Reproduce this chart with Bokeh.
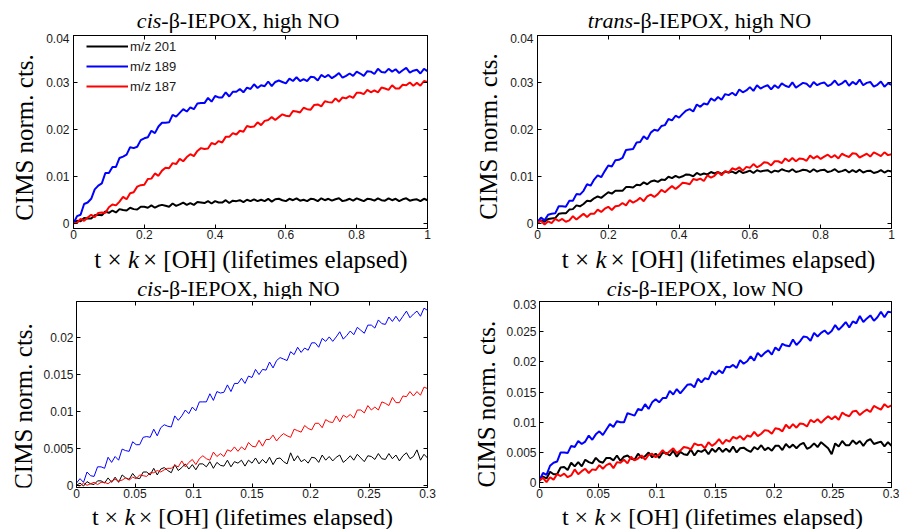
import numpy as np
from bokeh.plotting import figure
from bokeh.models import Range1d, FixedTicker, LinearAxis, Label, Legend, LegendItem
from bokeh.layouts import column, row
from bokeh.embed import file_html
from bokeh.resources import INLINE

# ---------------- data (CIMS normalized counts) ----------------
# x samples: lifetimes elapsed
x_full = np.linspace(0, 1, 101)      # top panels
x_early = np.linspace(0, 0.3, 101)   # bottom panels

# cis-beta-IEPOX, high NO (0-1 lifetimes)
cis_hi_201 = [0, 5e-4, 4e-4, 11e-4, 10e-4, 10e-4, 17e-4, 18e-4, 17e-4, 25e-4,
              22e-4, 27e-4, 23e-4, 30e-4, 28e-4, 27e-4, 33e-4, 30e-4, 29e-4, 35e-4,
              35e-4, 33e-4, 38e-4, 33e-4, 37e-4, 39e-4, 37e-4, 35e-4, 42e-4, 37e-4,
              40e-4, 44e-4, 39e-4, 43e-4, 39e-4, 45e-4, 44e-4, 43e-4, 47e-4, 42e-4,
              47e-4, 44e-4, 44e-4, 49e-4, 43e-4, 48e-4, 47e-4, 49e-4, 45e-4, 50e-4,
              47e-4, 51e-4, 47e-4, 50e-4, 47e-4, 52e-4, 46e-4, 51e-4, 52e-4, 49e-4,
              47e-4, 52e-4, 49e-4, 53e-4, 48e-4, 50e-4, 47e-4, 52e-4, 51e-4, 47e-4,
              53e-4, 49e-4, 52e-4, 48e-4, 51e-4, 53e-4, 47e-4, 49e-4, 52e-4, 48e-4,
              53e-4, 50e-4, 47e-4, 52e-4, 51e-4, 48e-4, 53e-4, 49e-4, 48e-4, 53e-4,
              49e-4, 52e-4, 47e-4, 51e-4, 53e-4, 48e-4, 50e-4, 51e-4, 47e-4, 52e-4,
              49e-4]
cis_hi_189 = [0, 15e-4, 18e-4, 41e-4, 44e-4, 52e-4, 72e-4, 80e-4, 85e-4, 107e-4,
              107e-4, 120e-4, 120e-4, 139e-4, 142e-4, 146e-4, 162e-4, 160e-4, 163e-4, 177e-4,
              181e-4, 183e-4, 197e-4, 192e-4, 206e-4, 214e-4, 214e-4, 215e-4, 231e-4, 227e-4,
              235e-4, 243e-4, 238e-4, 247e-4, 243e-4, 255e-4, 256e-4, 256e-4, 267e-4, 259e-4,
              271e-4, 268e-4, 268e-4, 279e-4, 270e-4, 280e-4, 280e-4, 286e-4, 279e-4, 289e-4,
              286e-4, 296e-4, 288e-4, 294e-4, 292e-4, 302e-4, 292e-4, 301e-4, 304e-4, 301e-4,
              298e-4, 308e-4, 303e-4, 311e-4, 303e-4, 307e-4, 303e-4, 312e-4, 311e-4, 304e-4,
              316e-4, 311e-4, 316e-4, 309e-4, 314e-4, 320e-4, 310e-4, 314e-4, 319e-4, 314e-4,
              323e-4, 319e-4, 314e-4, 324e-4, 323e-4, 318e-4, 329e-4, 322e-4, 321e-4, 329e-4,
              323e-4, 328e-4, 320e-4, 326e-4, 331e-4, 321e-4, 325e-4, 327e-4, 319e-4, 329e-4,
              324e-4]
cis_hi_187 = [0, 1e-4, 9e-4, 5e-4, 12e-4, 18e-4, 13e-4, 22e-4, 23e-4, 22e-4,
              34e-4, 40e-4, 38e-4, 46e-4, 56e-4, 51e-4, 64e-4, 66e-4, 78e-4, 81e-4,
              82e-4, 94e-4, 95e-4, 106e-4, 101e-4, 112e-4, 118e-4, 117e-4, 128e-4, 126e-4,
              137e-4, 132e-4, 141e-4, 147e-4, 143e-4, 154e-4, 160e-4, 158e-4, 159e-4, 171e-4,
              168e-4, 175e-4, 172e-4, 184e-4, 184e-4, 192e-4, 189e-4, 197e-4, 195e-4, 207e-4,
              205e-4, 206e-4, 215e-4, 209e-4, 218e-4, 220e-4, 226e-4, 220e-4, 226e-4, 232e-4,
              229e-4, 228e-4, 239e-4, 238e-4, 236e-4, 246e-4, 243e-4, 242e-4, 252e-4, 253e-4,
              249e-4, 260e-4, 258e-4, 257e-4, 266e-4, 259e-4, 268e-4, 266e-4, 271e-4, 267e-4,
              278e-4, 278e-4, 275e-4, 284e-4, 279e-4, 283e-4, 279e-4, 289e-4, 287e-4, 284e-4,
              294e-4, 287e-4, 287e-4, 295e-4, 294e-4, 300e-4, 293e-4, 299e-4, 293e-4, 303e-4,
              301e-4]

# trans-beta-IEPOX, high NO (0-1 lifetimes)
trans_hi_201 = [1e-4, 6e-4, 3e-4, 9e-4, 10e-4, 11e-4, 20e-4, 21e-4, 21e-4, 29e-4,
                30e-4, 38e-4, 36e-4, 41e-4, 48e-4, 47e-4, 53e-4, 57e-4, 54e-4, 60e-4,
                66e-4, 63e-4, 69e-4, 69e-4, 69e-4, 77e-4, 77e-4, 76e-4, 82e-4, 81e-4,
                87e-4, 83e-4, 89e-4, 91e-4, 88e-4, 93e-4, 92e-4, 99e-4, 96e-4, 101e-4,
                97e-4, 100e-4, 104e-4, 103e-4, 100e-4, 107e-4, 103e-4, 106e-4, 104e-4, 109e-4,
                106e-4, 109e-4, 105e-4, 110e-4, 108e-4, 110e-4, 106e-4, 112e-4, 107e-4, 109e-4,
                112e-4, 107e-4, 113e-4, 110e-4, 112e-4, 113e-4, 108e-4, 112e-4, 110e-4, 115e-4,
                112e-4, 110e-4, 115e-4, 109e-4, 111e-4, 114e-4, 113e-4, 109e-4, 115e-4, 110e-4,
                113e-4, 114e-4, 109e-4, 111e-4, 115e-4, 109e-4, 111e-4, 114e-4, 108e-4, 113e-4,
                109e-4, 114e-4, 108e-4, 111e-4, 112e-4, 107e-4, 109e-4, 113e-4, 108e-4, 112e-4,
                110e-4]
trans_hi_189 = [3e-4, 12e-4, 6e-4, 18e-4, 20e-4, 21e-4, 36e-4, 36e-4, 35e-4, 48e-4,
                48e-4, 62e-4, 61e-4, 69e-4, 83e-4, 80e-4, 93e-4, 102e-4, 98e-4, 111e-4,
                123e-4, 121e-4, 134e-4, 135e-4, 139e-4, 156e-4, 157e-4, 158e-4, 172e-4, 173e-4,
                185e-4, 179e-4, 193e-4, 199e-4, 197e-4, 207e-4, 209e-4, 222e-4, 219e-4, 229e-4,
                225e-4, 233e-4, 240e-4, 243e-4, 238e-4, 253e-4, 248e-4, 255e-4, 253e-4, 266e-4,
                261e-4, 269e-4, 263e-4, 275e-4, 273e-4, 278e-4, 272e-4, 285e-4, 279e-4, 283e-4,
                290e-4, 282e-4, 294e-4, 287e-4, 291e-4, 294e-4, 285e-4, 294e-4, 288e-4, 298e-4,
                293e-4, 290e-4, 300e-4, 289e-4, 294e-4, 299e-4, 297e-4, 290e-4, 301e-4, 294e-4,
                298e-4, 300e-4, 292e-4, 296e-4, 304e-4, 294e-4, 298e-4, 304e-4, 293e-4, 301e-4,
                296e-4, 306e-4, 294e-4, 299e-4, 301e-4, 291e-4, 295e-4, 302e-4, 291e-4, 298e-4,
                295e-4]
trans_hi_187 = [1e-4, 5e-4, -3e-4, 4e-4, 0, 9e-4, 5e-4, 9e-4, 3e-4, 6e-4,
                15e-4, 8e-4, 14e-4, 20e-4, 13e-4, 20e-4, 20e-4, 29e-4, 24e-4, 31e-4,
                35e-4, 28e-4, 36e-4, 37e-4, 43e-4, 38e-4, 49e-4, 44e-4, 48e-4, 54e-4,
                47e-4, 57e-4, 61e-4, 56e-4, 62e-4, 71e-4, 66e-4, 73e-4, 79e-4, 73e-4,
                79e-4, 86e-4, 85e-4, 83e-4, 94e-4, 92e-4, 95e-4, 90e-4, 102e-4, 97e-4,
                101e-4, 109e-4, 102e-4, 111e-4, 108e-4, 117e-4, 114e-4, 119e-4, 112e-4, 120e-4,
                118e-4, 126e-4, 119e-4, 123e-4, 130e-4, 129e-4, 123e-4, 132e-4, 132e-4, 128e-4,
                138e-4, 132e-4, 139e-4, 132e-4, 138e-4, 137e-4, 133e-4, 144e-4, 138e-4, 143e-4,
                137e-4, 142e-4, 146e-4, 140e-4, 145e-4, 138e-4, 148e-4, 144e-4, 141e-4, 149e-4,
                148e-4, 140e-4, 144e-4, 148e-4, 142e-4, 151e-4, 147e-4, 143e-4, 151e-4, 145e-4,
                147e-4]

# cis-beta-IEPOX, high NO (0-0.3 lifetimes)
cis_hi_early_201 = [0, 3e-4, -1e-4, 5e-4, 2e-4, 1e-4, 6e-4, 6e-4, 3e-4, 10e-4,
                    4e-4, 11e-4, 4e-4, 14e-4, 10e-4, 8e-4, 16e-4, 10e-4, 9e-4, 18e-4,
                    18e-4, 14e-4, 23e-4, 14e-4, 22e-4, 24e-4, 20e-4, 17e-4, 28e-4, 20e-4,
                    24e-4, 29e-4, 22e-4, 28e-4, 21e-4, 29e-4, 29e-4, 25e-4, 32e-4, 23e-4,
                    31e-4, 27e-4, 26e-4, 34e-4, 25e-4, 32e-4, 30e-4, 34e-4, 26e-4, 34e-4,
                    30e-4, 37e-4, 29e-4, 35e-4, 30e-4, 38e-4, 28e-4, 36e-4, 37e-4, 32e-4,
                    29e-4, 44e-4, 33e-4, 40e-4, 32e-4, 35e-4, 30e-4, 38e-4, 37e-4, 31e-4,
                    41e-4, 34e-4, 39e-4, 33e-4, 38e-4, 41e-4, 31e-4, 35e-4, 40e-4, 34e-4,
                    42e-4, 37e-4, 32e-4, 40e-4, 39e-4, 35e-4, 43e-4, 36e-4, 35e-4, 43e-4,
                    36e-4, 41e-4, 33e-4, 40e-4, 44e-4, 36e-4, 39e-4, 48e-4, 34e-4, 42e-4,
                    37e-4]
cis_hi_early_189 = [3e-4, 9e-4, 4e-4, 18e-4, 13e-4, 12e-4, 25e-4, 25e-4, 23e-4, 38e-4,
                    31e-4, 39e-4, 34e-4, 49e-4, 47e-4, 46e-4, 59e-4, 55e-4, 55e-4, 65e-4,
                    66e-4, 65e-4, 76e-4, 67e-4, 78e-4, 82e-4, 80e-4, 79e-4, 94e-4, 88e-4,
                    94e-4, 102e-4, 97e-4, 106e-4, 101e-4, 113e-4, 113e-4, 113e-4, 124e-4, 115e-4,
                    127e-4, 125e-4, 126e-4, 136e-4, 127e-4, 138e-4, 138e-4, 145e-4, 138e-4, 148e-4,
                    146e-4, 157e-4, 150e-4, 157e-4, 156e-4, 167e-4, 159e-4, 169e-4, 173e-4, 171e-4,
                    169e-4, 181e-4, 177e-4, 187e-4, 180e-4, 186e-4, 183e-4, 193e-4, 193e-4, 187e-4,
                    199e-4, 195e-4, 201e-4, 195e-4, 201e-4, 208e-4, 198e-4, 203e-4, 209e-4, 204e-4,
                    214e-4, 210e-4, 206e-4, 217e-4, 217e-4, 213e-4, 224e-4, 219e-4, 218e-4, 228e-4,
                    222e-4, 229e-4, 222e-4, 229e-4, 236e-4, 227e-4, 232e-4, 236e-4, 229e-4, 240e-4,
                    237e-4]
cis_hi_early_187 = [0, -1e-4, 3e-4, 0, 2e-4, 4e-4, 1e-4, 4e-4, 4e-4, 2e-4,
                    6e-4, 8e-4, 6e-4, 7e-4, 10e-4, 7e-4, 11e-4, 9e-4, 14e-4, 13e-4,
                    12e-4, 17e-4, 17e-4, 20e-4, 18e-4, 21e-4, 23e-4, 23e-4, 27e-4, 25e-4,
                    33e-4, 25e-4, 31e-4, 35e-4, 28e-4, 36e-4, 40e-4, 36e-4, 34e-4, 45e-4,
                    39e-4, 43e-4, 39e-4, 48e-4, 46e-4, 52e-4, 46e-4, 52e-4, 48e-4, 58e-4,
                    53e-4, 52e-4, 61e-4, 53e-4, 62e-4, 62e-4, 68e-4, 60e-4, 66e-4, 70e-4,
                    67e-4, 65e-4, 76e-4, 74e-4, 72e-4, 81e-4, 77e-4, 75e-4, 84e-4, 84e-4,
                    78e-4, 89e-4, 86e-4, 85e-4, 94e-4, 86e-4, 95e-4, 92e-4, 96e-4, 91e-4,
                    102e-4, 102e-4, 98e-4, 108e-4, 102e-4, 106e-4, 102e-4, 113e-4, 111e-4, 108e-4,
                    119e-4, 112e-4, 112e-4, 121e-4, 120e-4, 127e-4, 121e-4, 127e-4, 122e-4, 133e-4,
                    131e-4]

# cis-beta-IEPOX, low NO (0-0.3 lifetimes)
cis_lo_201 = [3e-4, 10e-4, 7e-4, 18e-4, 14e-4, 14e-4, 25e-4, 26e-4, 21e-4, 33e-4,
              27e-4, 34e-4, 27e-4, 38e-4, 34e-4, 32e-4, 41e-4, 35e-4, 33e-4, 41e-4,
              41e-4, 37e-4, 45e-4, 36e-4, 43e-4, 45e-4, 40e-4, 38e-4, 48e-4, 41e-4,
              44e-4, 50e-4, 42e-4, 48e-4, 41e-4, 50e-4, 49e-4, 45e-4, 53e-4, 43e-4,
              51e-4, 47e-4, 46e-4, 55e-4, 45e-4, 53e-4, 51e-4, 55e-4, 47e-4, 56e-4,
              51e-4, 58e-4, 51e-4, 56e-4, 51e-4, 60e-4, 50e-4, 57e-4, 58e-4, 54e-4,
              51e-4, 59e-4, 55e-4, 62e-4, 54e-4, 58e-4, 53e-4, 61e-4, 61e-4, 54e-4,
              64e-4, 58e-4, 63e-4, 57e-4, 63e-4, 66e-4, 56e-4, 59e-4, 65e-4, 59e-4,
              67e-4, 62e-4, 57e-4, 47e-4, 65e-4, 60e-4, 69e-4, 62e-4, 62e-4, 70e-4,
              64e-4, 69e-4, 61e-4, 69e-4, 72e-4, 64e-4, 66e-4, 68e-4, 60e-4, 67e-4,
              61e-4]
cis_lo_189 = [4e-4, 16e-4, 13e-4, 28e-4, 33e-4, 35e-4, 50e-4, 50e-4, 49e-4, 61e-4,
              59e-4, 69e-4, 64e-4, 68e-4, 78e-4, 71e-4, 80e-4, 85e-4, 79e-4, 88e-4,
              97e-4, 92e-4, 102e-4, 100e-4, 100e-4, 115e-4, 113e-4, 111e-4, 122e-4, 120e-4,
              130e-4, 122e-4, 133e-4, 138e-4, 133e-4, 140e-4, 140e-4, 152e-4, 146e-4, 155e-4,
              148e-4, 155e-4, 162e-4, 163e-4, 158e-4, 172e-4, 166e-4, 173e-4, 171e-4, 184e-4,
              179e-4, 186e-4, 181e-4, 192e-4, 191e-4, 195e-4, 190e-4, 203e-4, 197e-4, 201e-4,
              209e-4, 202e-4, 215e-4, 209e-4, 215e-4, 219e-4, 212e-4, 224e-4, 219e-4, 230e-4,
              227e-4, 226e-4, 237e-4, 228e-4, 234e-4, 242e-4, 241e-4, 235e-4, 248e-4, 242e-4,
              248e-4, 252e-4, 246e-4, 251e-4, 261e-4, 253e-4, 259e-4, 266e-4, 257e-4, 267e-4,
              264e-4, 276e-4, 266e-4, 272e-4, 277e-4, 268e-4, 274e-4, 283e-4, 274e-4, 283e-4,
              282e-4]
cis_lo_187 = [4e-4, 8e-4, 1e-4, 9e-4, 5e-4, 14e-4, 11e-4, 15e-4, 9e-4, 12e-4,
              22e-4, 14e-4, 19e-4, 23e-4, 16e-4, 22e-4, 21e-4, 29e-4, 23e-4, 29e-4,
              32e-4, 24e-4, 34e-4, 33e-4, 38e-4, 32e-4, 43e-4, 37e-4, 40e-4, 45e-4,
              38e-4, 46e-4, 48e-4, 42e-4, 47e-4, 54e-4, 47e-4, 52e-4, 57e-4, 49e-4,
              53e-4, 59e-4, 58e-4, 55e-4, 65e-4, 62e-4, 63e-4, 57e-4, 67e-4, 61e-4,
              65e-4, 72e-4, 64e-4, 71e-4, 68e-4, 76e-4, 73e-4, 77e-4, 71e-4, 78e-4,
              76e-4, 84e-4, 77e-4, 81e-4, 87e-4, 86e-4, 81e-4, 90e-4, 89e-4, 85e-4,
              96e-4, 90e-4, 97e-4, 91e-4, 98e-4, 97e-4, 93e-4, 104e-4, 100e-4, 105e-4,
              99e-4, 105e-4, 110e-4, 105e-4, 110e-4, 104e-4, 116e-4, 112e-4, 110e-4, 118e-4,
              119e-4, 112e-4, 117e-4, 121e-4, 117e-4, 127e-4, 124e-4, 121e-4, 130e-4, 125e-4,
              128e-4]

# ---------------- ticks ----------------
x_ticks_full = [0, 0.2, 0.4, 0.6, 0.8, 1]
x_labels_full = ["0", "0.2", "0.4", "0.6", "0.8", "1"]
x_ticks_early = [0, 0.05, 0.1, 0.15, 0.2, 0.25, 0.3]
x_labels_early = ["0", "0.05", "0.1", "0.15", "0.2", "0.25", "0.3"]
y_ticks_top = [0, 0.01, 0.02, 0.03, 0.04]
y_labels_top = ["0", "0.01", "0.02", "0.03", "0.04"]
y_ticks_c = [0, 0.005, 0.01, 0.015, 0.02]
y_labels_c = ["0", "0.005", "0.01", "0.015", "0.02"]
y_ticks_d = [0, 0.005, 0.01, 0.015, 0.02, 0.025, 0.03]
y_labels_d = ["0", "0.005", "0.01", "0.015", "0.02", "0.025", "0.03"]

series_names = ["m/z 201", "m/z 189", "m/z 187"]
series_colors = ["#000000", "#0000ff", "#ff0000"]

SERIF = "Liberation Serif"
SANS = "Liberation Sans"
XLABEL_A = "t \u00d7"
XLABEL_K = "k"
XLABEL_B = "\u00d7 [OH] (lifetimes elapsed)"
YLABEL = "CIMS norm. cts."


def style_axis(ax, ticks, labels, standoff, show_labels=True):
    ax.ticker = FixedTicker(ticks=ticks)
    ax.major_tick_in = 4
    ax.major_tick_out = 0
    ax.minor_tick_line_color = None
    ax.major_tick_line_color = "black"
    ax.axis_line_color = "black"
    if show_labels:
        ax.major_label_overrides = dict(zip(ticks, labels))
        ax.major_label_text_font = SANS
        ax.major_label_text_font_size = "12px"
        ax.major_label_text_color = "#1a1a1a"
        ax.major_label_standoff = standoff
    else:
        ax.major_label_text_font_size = "1px"
        ax.major_label_text_color = None
        ax.major_label_standoff = 0


def make_panel(width, height, borders, xr, yr, xt, xtl, yt, ytl, ystandoff):
    bl, br, bt, bb = borders
    p = figure(width=width, height=height, x_range=Range1d(*xr), y_range=Range1d(*yr),
               output_backend="svg", toolbar_location=None,
               min_border_left=bl, min_border_right=br,
               min_border_top=bt, min_border_bottom=bb,
               background_fill_color="white", border_fill_color="white")
    p.grid.visible = False
    p.outline_line_color = "black"
    p.outline_line_width = 1
    style_axis(p.xaxis[0], xt, xtl, 1)
    style_axis(p.yaxis[0], yt, ytl, ystandoff)
    top = LinearAxis()
    style_axis(top, xt, xtl, 0, show_labels=False)
    p.add_layout(top, "above")
    right = LinearAxis()
    style_axis(right, yt, ytl, 0, show_labels=False)
    p.add_layout(right, "right")
    return p


def make_strip(width, height):
    # a blank text strip: its frame fills the whole canvas, so text is not clipped
    s = figure(width=width, height=height, x_range=Range1d(0, 1), y_range=Range1d(0, 1),
               output_backend="svg", toolbar_location=None,
               x_axis_location=None, y_axis_location=None,
               min_border=0, min_border_left=0, min_border_right=0,
               min_border_top=0, min_border_bottom=0,
               background_fill_color="white", border_fill_color="white")
    s.grid.visible = False
    s.outline_line_color = None
    return s


def add_text(p, x, y, text, size, style="normal", align="left", angle=0.0):
    p.add_layout(Label(x=x, y=y, x_units="screen", y_units="screen", text=text,
                       text_font=SERIF, text_font_size=size, text_font_style=style,
                       text_align=align, text_baseline="alphabetic", angle=angle,
                       text_color="black"))


def add_title(s, split_x, base_y, italic_word, rest):
    add_text(s, split_x, base_y, italic_word, "22px", "italic", "right")
    add_text(s, split_x, base_y, rest, "22px")


def add_xlabel(s, k_x, base_y, size=25):
    fs = f"{size}px"
    add_text(s, k_x - 0.26 * size, base_y, XLABEL_A, fs, align="right")
    add_text(s, k_x, base_y, XLABEL_K, fs, "italic")
    add_text(s, k_x + 0.6 * size, base_y, XLABEL_B, fs)


def add_ylabel(s, base_x, center_y):
    add_text(s, base_x, center_y, YLABEL, "25px", align="center", angle=np.pi / 2)


def draw_series(p, x, ys, width):
    rs = []
    for y, c in zip(ys, series_colors):
        rs.append(p.line(x, y, line_color=c, line_width=width))
    return rs


# ---------------- top row ----------------
title_top = make_strip(899, 33)
add_title(title_top, 160.8, 12.7, "cis", "-\u03b2-IEPOX, high NO")
add_title(title_top, 632.6, 12.7, "trans", "-\u03b2-IEPOX, high NO")

ylab1 = make_strip(41, 211)
add_ylabel(ylab1, 23.5, 91)
p1 = make_panel(414, 211, (32, 28, 2, 16), (0, 1), (-0.00113, 0.04),
                x_ticks_full, x_labels_full, y_ticks_top, y_labels_top, 4)
r1 = draw_series(p1, x_full, [cis_hi_201, cis_hi_189, cis_hi_187], 2.0)
legend = Legend(items=[LegendItem(label=n, renderers=[r]) for n, r in zip(series_names, r1)],
                location=(13, 132), orientation="vertical",
                glyph_width=42, glyph_height=20, label_height=20, label_standoff=2,
                spacing=0, padding=0, margin=0,
                background_fill_alpha=0, border_line_color=None,
                label_text_font=SANS, label_text_font_size="13px",
                label_text_color="#1a1a1a")
p1.add_layout(legend)

ylab2 = make_strip(50, 211)
add_ylabel(ylab2, 33.0, 92)
p2 = make_panel(394, 211, (32, 8, 2, 16), (0, 1), (-0.00113, 0.04),
                x_ticks_full, x_labels_full, y_ticks_top, y_labels_top, 4)
draw_series(p2, x_full, [trans_hi_201, trans_hi_189, trans_hi_187], 2.0)

xlab_top = make_strip(899, 29)
add_xlabel(xlab_top, 127.5, 13.7)
add_xlabel(xlab_top, 595.1, 13.7)

# ---------------- bottom row ----------------
title_bot = make_strip(899, 26)
add_title(title_bot, 161.2, 11.4, "cis", "-\u03b2-IEPOX, high NO")
add_title(title_bot, 630.7, 11.4, "cis", "-\u03b2-IEPOX, low NO")

ylab3 = make_strip(40, 203)
add_ylabel(ylab3, 23.0, 81)
p3 = make_panel(415, 203, (33, 28, 2, 15), (0, 0.3), (-0.0003, 0.0249),
                x_ticks_early, x_labels_early, y_ticks_c, y_labels_c, 3)
draw_series(p3, x_early, [cis_hi_early_201, cis_hi_early_189, cis_hi_early_187], 1.0)

ylab4 = make_strip(48, 203)
add_ylabel(ylab4, 31.0, 83.3)
p4 = make_panel(396, 203, (34, 8, 2, 15), (0, 0.3), (-0.0008, 0.03),
                x_ticks_early, x_labels_early, y_ticks_d, y_labels_d, 3)
draw_series(p4, x_early, [cis_lo_201, cis_lo_189, cis_lo_187], 2.0)

xlab_bot = make_strip(899, 27)
add_xlabel(xlab_bot, 123.9, 12.5, 24)
add_xlabel(xlab_bot, 593.9, 12.5, 24)

layout = column(
    title_top,
    row(ylab1, p1, ylab2, p2, spacing=0),
    xlab_top,
    title_bot,
    row(ylab3, p3, ylab4, p4, spacing=0),
    xlab_bot,
    spacing=0,
)

with open("out.html", "w") as f:
    f.write(file_html(layout, INLINE))
